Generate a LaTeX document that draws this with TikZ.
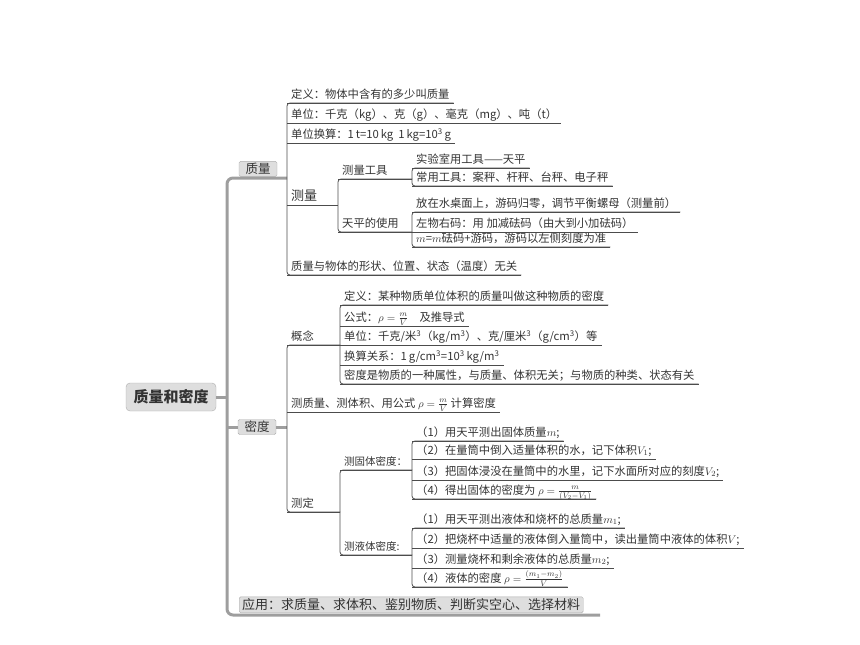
\documentclass[tikz,border=0pt]{standalone}
\usepackage{fontspec}
\setmainfont{Noto Sans CJK SC}

\begin{document}
\begin{tikzpicture}[x=1pt,y=-1pt,
	font=\fontsize{11.3}{13}\selectfont,text=black!80,
	leaf/.style={anchor=south west,inner xsep=4pt,inner ysep=2.5pt,text height=9pt,text depth=2pt},
	hub/.style={leaf,text width=#1,align=left},
	br/.style={draw=black!70,line width=0.8pt,rounded corners=3pt},
	trunk/.style={draw=black!38,line width=3pt,rounded corners=6pt},
	tag/.style={draw=black!32,fill=black!13,rounded corners=1.5pt,inner sep=0pt}]
	\useasboundingbox (0,0) rectangle (860,645);
	% centre and the three main branches
	\node[tag,rounded corners=4pt,minimum width=90pt,minimum height=28pt,font=\fontsize{15}{17}\selectfont\bfseries] (root) at (171,397) {质量和密度};
	\node[tag,anchor=south,minimum width=38pt,minimum height=15pt,font=\fontsize{12.5}{14}\selectfont] (mass) at (258,176.5) {质量};
	\node[tag,minimum width=38pt,minimum height=15pt,font=\fontsize{12.5}{14}\selectfont] (dens) at (257,427) {密度};
	\node[tag,anchor=south west,inner xsep=3pt,minimum height=16pt,font=\fontsize{13}{15}\selectfont] (app) at (239,613) {应用：求质量、求体积、鉴别物质、判断实空心、选择材料};
	% mass
	\node[leaf] (d1) at (287,103) {定义：物体中含有的多少叫质量};
	\node[leaf] (d2) at (287,123) {单位：千克（kg）、克（g）、毫克（mg）、吨（t）};
	\node[leaf] (d3) at (287,143) {单位换算：1\,t=10\,kg\ \ 1\,kg=10\textsuperscript{3}\,g};
	\node[hub=43pt,font=\fontsize{13}{15}\selectfont] (d4) at (287,205) {测量};
	\node[leaf] (d5) at (287,275) {质量与物体的形状、位置、状态（温度）无关};
	\node[hub=66pt] (t1) at (338,179) {测量工具};
	\node[hub=66pt] (t2) at (338,232) {天平的使用};
	\node[leaf] (t1a) at (412,168) {实验室用工具——天平};
	\node[leaf] (t1b) at (412,186) {常用工具：案秤、杆秤、台秤、电子秤};
	\node[leaf] (t2a) at (412,212) {放在水桌面上，游码归零，调节平衡螺母（测量前）};
	\node[leaf] (t2b) at (412,232) {左物右码：用 加减砝码（由大到小加砝码）};
	\node[leaf] (t2c) at (412,247) {$m$=$m$砝码+游码，游码以左侧刻度为准};
	% density
	\node[hub=45pt] (c0) at (287,345) {概念};
	\node[leaf] (c1) at (340,305) {定义：某种物质单位体积的质量叫做这种物质的密度};
	\node[leaf] (c2) at (340,326) {公式：$\rho=\frac{m}{V}$\quad 及推导式};
	\node[leaf] (c3) at (340,345) {单位：千克/米\textsuperscript{3}（kg/m\textsuperscript{3}）、克/厘米\textsuperscript{3}（g/cm\textsuperscript{3}）等};
	\node[leaf] (c4) at (340,365) {换算关系：1\,g/cm\textsuperscript{3}=10\textsuperscript{3}\,kg/m\textsuperscript{3}};
	\node[leaf] (c5) at (340,384) {密度是物质的一种属性，与质量、体积无关；与物质的种类、状态有关};
	\node[leaf] (f0) at (287,412) {测质量、测体积、用公式 $\rho=\frac{m}{V}$ 计算密度};
	\node[hub=45pt] (m0) at (287,512) {测定};
	\node[hub=64pt,font=\fontsize{10.5}{12}\selectfont] (s0) at (340,470) {测固体密度：};
	\node[hub=64pt,font=\fontsize{10.5}{12}\selectfont] (l0) at (340,555) {测液体密度:};
	\node[leaf] (s1) at (412,441) {（1）用天平测出固体质量$m$;};
	\node[leaf] (s2) at (412,459) {（2）在量筒中倒入适量体积的水，记下体积$V_1$;};
	\node[leaf] (s3) at (412,480) {（3）把固体浸没在量筒中的水里，记下水面所对应的刻度$V_2$;};
	\node[leaf] (s4) at (412,499) {（4）得出固体的密度为 $\rho=\frac{m}{(V_2-V_1)}$};
	\node[leaf] (l1) at (412,528) {（1）用天平测出液体和烧杯的总质量$m_1$;};
	\node[leaf] (l2) at (412,548) {（2）把烧杯中适量的液体倒入量筒中，读出量筒中液体的体积$V$;};
	\node[leaf] (l3) at (412,568) {（3）测量烧杯和剩余液体的总质量$m_2$;};
	\node[leaf] (l4) at (412,587) {（4）液体的密度 $\rho=\frac{(m_1-m_2)}{V}$};
	% trunk
	\coordinate (tkTop) at (227,178);
	\coordinate (tkBot) at (227,615);
	\coordinate (tkEnd) at (600,615);
	\draw[trunk] (d1.south west |- tkTop) -- (tkTop) -- (tkBot) -- (tkEnd);
	\draw[trunk] (root) -- (root.east -| tkTop);
	\draw[trunk] (dens.west -| tkTop) -- (dens) -- (dens.east -| d1.south west);
	% underlines and brackets
	\foreach \n in {d1,d2,d3,d4,d5,t1,t2,t1a,t1b,t2a,t2b,t2c,c0,c1,c2,c3,c4,c5,f0,m0,s0,l0,s1,s2,s3,s4,l1,l2,l3,l4}
		\draw[br,rounded corners=0pt] (\n.south west) -- (\n.south east);
	\draw[br] (d1.south east) -- (d1.south west) -- (d5.south west) -- (d5.south east);
	\draw[br] (t1.south east) -- (t1.south west) -- (t2.south west) -- (t2.south east);
	\draw[br] (t1a.south east) -- (t1a.south west) -- (t1b.south west) -- (t1b.south east);
	\draw[br] (t2a.south east) -- (t2a.south west) -- (t2c.south west) -- (t2c.south east);
	\draw[br] (c0.south east) -- (c0.south west) -- (m0.south west) -- (m0.south east);
	\draw[br] (c1.south east) -- (c1.south west) -- (c5.south west) -- (c5.south east);
	\draw[br] (s0.south east) -- (s0.south west) -- (l0.south west) -- (l0.south east);
	\draw[br] (s1.south east) -- (s1.south west) -- (s4.south west) -- (s4.south east);
	\draw[br] (l1.south east) -- (l1.south west) -- (l4.south west) -- (l4.south east);
\end{tikzpicture}
\end{document}
